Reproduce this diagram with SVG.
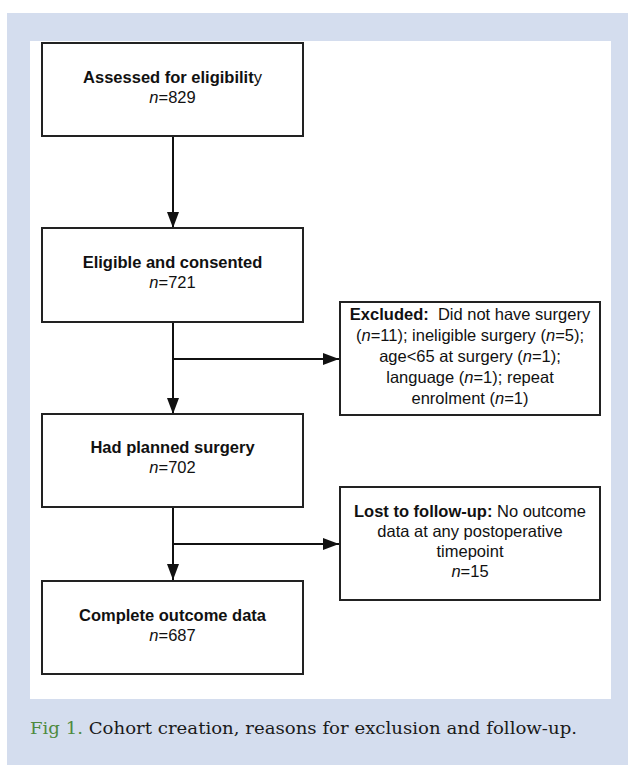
<svg xmlns="http://www.w3.org/2000/svg" width="628" height="765" viewBox="0 0 628 765">
<style>
.box{fill:#fff;stroke:#222;stroke-width:2}
.t{font-family:"Liberation Sans",Arial,sans-serif;font-size:16.5px;fill:#111;text-anchor:middle}
.b{font-weight:bold}
.i{font-style:italic}
.pre{white-space:pre}
.c{stroke:#111;stroke-width:2;fill:none}
.cap{font-family:"DejaVu Serif","Liberation Serif",serif;font-size:17.5px;fill:#1a1a1a}
</style>
<defs>
<marker id="ah" markerUnits="userSpaceOnUse" markerWidth="16" markerHeight="12" refX="16" refY="6" orient="auto">
<path d="M0,0 L16,6 L0,12 Z" fill="#111"/>
</marker>
</defs>
<rect x="7" y="13" width="621" height="752" fill="#d4ddee"/>
<rect x="30" y="41" width="581" height="658" fill="#fff"/>
<g id="connectors">
<line class="c" x1="173" y1="136" x2="173" y2="228" marker-end="url(#ah)"/>
<line class="c" x1="173" y1="322" x2="173" y2="414" marker-end="url(#ah)"/>
<line class="c" x1="173" y1="359" x2="339" y2="359" marker-end="url(#ah)"/>
<line class="c" x1="173" y1="507" x2="173" y2="580" marker-end="url(#ah)"/>
<line class="c" x1="173" y1="544" x2="339" y2="544" marker-end="url(#ah)"/>
</g>
<g id="assessed">
<rect class="box" x="42" y="43" width="261" height="93"/>
<text class="t" x="172.5" y="83"><tspan class="b">Assessed for eligibilit</tspan>y</text>
<text class="t" x="172.5" y="103"><tspan class="i">n</tspan>=829</text>
</g>
<g id="eligible">
<rect class="box" x="42" y="228" width="261" height="94"/>
<text class="t b" x="172.5" y="268">Eligible and consented</text>
<text class="t" x="172.5" y="288"><tspan class="i">n</tspan>=721</text>
</g>
<g id="excluded">
<rect class="box" x="340" y="302" width="260" height="113"/>
<text class="t pre" x="470" y="320"><tspan class="b">Excluded:</tspan>  Did not have surgery</text>
<text class="t" x="470" y="341">(<tspan class="i">n</tspan>=11); ineligible surgery (<tspan class="i">n</tspan>=5);</text>
<text class="t" x="470" y="362">age&lt;65 at surgery (<tspan class="i">n</tspan>=1);</text>
<text class="t" x="470" y="383">language (<tspan class="i">n</tspan>=1); repeat</text>
<text class="t" x="470" y="404">enrolment (<tspan class="i">n</tspan>=1)</text>
</g>
<g id="planned">
<rect class="box" x="42" y="414" width="261" height="93"/>
<text class="t b" x="172.5" y="453">Had planned surgery</text>
<text class="t" x="172.5" y="473"><tspan class="i">n</tspan>=702</text>
</g>
<g id="lost">
<rect class="box" x="340" y="487" width="260" height="113"/>
<text class="t" x="470" y="517"><tspan class="b">Lost to follow-up:</tspan> No outcome</text>
<text class="t" x="470" y="537">data at any postoperative</text>
<text class="t" x="470" y="557">timepoint</text>
<text class="t" x="470" y="577"><tspan class="i">n</tspan>=15</text>
</g>
<g id="complete">
<rect class="box" x="42" y="581" width="261" height="93"/>
<text class="t b" x="172.5" y="621">Complete outcome data</text>
<text class="t" x="172.5" y="641"><tspan class="i">n</tspan>=687</text>
</g>
<text class="cap" x="30" y="734" textLength="547" lengthAdjust="spacingAndGlyphs"><tspan fill="#4e8a3e">Fig 1.</tspan> Cohort creation, reasons for exclusion and follow-up.</text>
</svg>
